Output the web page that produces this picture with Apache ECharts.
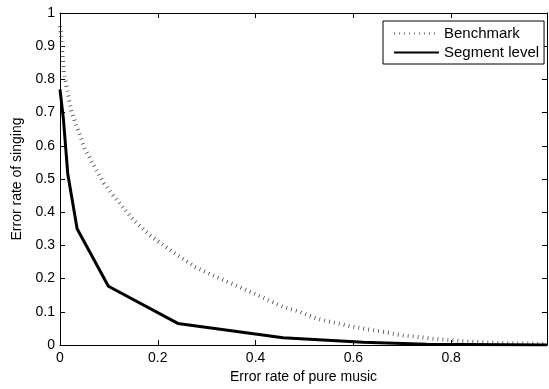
<!DOCTYPE html>
<html><head><meta charset="utf-8">
<script src="https://cdn.jsdelivr.net/npm/echarts@6/dist/echarts.min.js"></script>
<style>html,body{margin:0;padding:0;background:#fff}#c{width:549px;height:389px}</style>
</head><body><div id="c"></div>
<script>
var benchX = [0,0.002,0.005,0.008,0.016,0.022,0.032,0.051,0.071,0.09,0.109,0.15,0.184,0.231,0.276,0.3,0.354,0.39,0.422,0.456,0.49,0.524,0.558,0.592,0.626,0.66,0.694,0.728,0.762,0.796,0.83,0.864,0.898,0.93,0.965,0.996];
var benchY = [0.96,0.93,0.88,0.82,0.76,0.71,0.667,0.59,0.535,0.487,0.45,0.377,0.33,0.28,0.235,0.218,0.183,0.16,0.138,0.115,0.1,0.08,0.068,0.057,0.048,0.04,0.03,0.025,0.019,0.015,0.011,0.008,0.006,0.005,0.004,0.003];
var segX = [0,0.007,0.016,0.035,0.099,0.241,0.456,0.62,0.75,0.996];
var segY = [0.77,0.68,0.514,0.35,0.177,0.065,0.022,0.008,0.002,0];
var seriesNames = ['Benchmark','Segment level'];
var xTitle = 'Error rate of pure music';
var yTitle = 'Error rate of singing';

function pairs(xs, ys){ return xs.map(function(x,i){ return [x, ys[i]]; }); }
var font = 'Liberation Sans, Arial, Helvetica, sans-serif';
var chart = echarts.init(document.getElementById('c'), null, {renderer:'canvas'});
function axisCommon(){ return {
  axisLine:{show:true, onZero:false, lineStyle:{color:'#000', width:1}},
  axisTick:{show:true, inside:true, length:5, lineStyle:{color:'#000', width:1}},
  splitLine:{show:false}
};}
chart.setOption({
  animation:false,
  backgroundColor:'#fff',
  grid:{left:60, top:13, right:2, bottom:40, containLabel:false},
  legend:{
    show:true, orient:'vertical', left:383, top:21, itemWidth:45, itemHeight:10, itemGap:2,
    borderColor:'#000', borderWidth:1, padding:[4,5,3,10], backgroundColor:'#fff',
    itemStyle:{color:'transparent', borderColor:'transparent', borderWidth:0},
    textStyle:{fontFamily:font, fontSize:15, color:'#000', lineHeight:17},
    data:seriesNames
  },
  xAxis:[
    Object.assign({type:'value', min:0, max:0.996, interval:0.2, position:'bottom',
      name:xTitle, nameLocation:'middle', nameGap:25,
      nameTextStyle:{fontFamily:font, fontSize:14, color:'#000'},
      axisLabel:{showMaxLabel:false, fontFamily:font, fontSize:14, color:'#000', margin:6}}, axisCommon()),
    Object.assign({type:'value', min:0, max:0.996, interval:0.2, position:'top',
      axisLabel:{show:false}}, axisCommon())
  ],
  yAxis:[
    Object.assign({type:'value', min:0, max:1, interval:0.1, position:'left',
      name:yTitle, nameLocation:'middle', nameGap:35,
      nameTextStyle:{fontFamily:font, fontSize:14, color:'#000'},
      axisLabel:{fontFamily:font, fontSize:14, color:'#000', margin:5}}, axisCommon()),
    Object.assign({type:'value', min:0, max:1, interval:0.1, position:'right',
      axisLabel:{show:false}}, axisCommon())
  ],
  series:[
    {name:seriesNames[0], type:'line', data:pairs(benchX, benchY), showSymbol:false, symbol:'none',
      smooth:false, clip:true,
      lineStyle:{color:'#333', width:4, type:[0.7,4.3]}, itemStyle:{color:'#333'}},
    {name:seriesNames[1], type:'line', data:pairs(segX, segY), showSymbol:false, symbol:'none',
      smooth:false, clip:true,
      lineStyle:{color:'#000', width:3}, itemStyle:{color:'#000'}}
  ]
});
</script></body></html>
